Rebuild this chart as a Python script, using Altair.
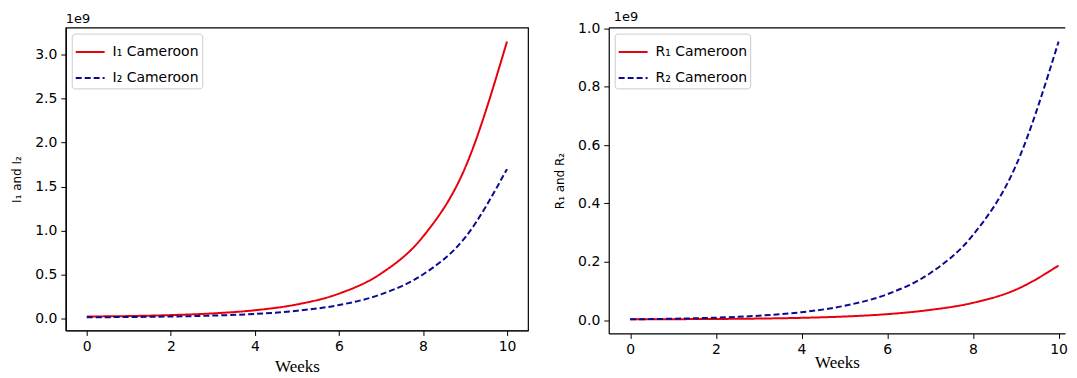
import altair as alt
import pandas as pd

# ---- data (values in units of 1e9) ----
weeks = [0, 1, 2, 3, 4, 5, 6, 7, 8, 9, 10]
i1 = [0.022, 0.027, 0.038, 0.057, 0.093, 0.159, 0.282, 0.510, 0.930, 1.710, 3.150]
i2 = [0.014, 0.016, 0.022, 0.032, 0.051, 0.087, 0.152, 0.274, 0.500, 0.918, 1.700]
r1 = [0.0025, 0.0030, 0.0037, 0.0051, 0.0076, 0.0121, 0.0202, 0.0347, 0.0590, 0.1040, 0.1870]
r2 = [0.0025, 0.0045, 0.0082, 0.0148, 0.0269, 0.0488, 0.0885, 0.1606, 0.2913, 0.5284, 0.9550]

i_labels = ["I\u2081 Cameroon", "I\u2082 Cameroon"]
r_labels = ["R\u2081 Cameroon", "R\u2082 Cameroon"]
x_ticks = [0, 2, 4, 6, 8, 10]
i_ticks = [0.0, 0.5, 1.0, 1.5, 2.0, 2.5, 3.0]
r_ticks = [0.0, 0.2, 0.4, 0.6, 0.8, 1.0]

RED = "#e8000b"
BLUE = "#0b0b8f"


def long_df(labels, a, b):
    rows = []
    for w, v in zip(weeks, a):
        rows.append({"week": w, "value": v, "series": labels[0]})
    for w, v in zip(weeks, b):
        rows.append({"week": w, "value": v, "series": labels[1]})
    return pd.DataFrame(rows)


def legend():
    return alt.Legend(
        title=None, orient="top-left", offset=6,
        symbolType="stroke", symbolSize=841, symbolStrokeWidth=2,
        labelFont="DejaVu Sans", labelFontSize=14, labelColor="black",
        labelOffset=7, rowPadding=3, padding=3,
        strokeColor="#cccccc", fillColor="white", cornerRadius=3,
    )


def title_1e9(dx=0, dy=0):
    return alt.TitleParams("1e9", anchor="start", frame="group", fontSize=13,
                           font="DejaVu Sans", fontWeight="normal", color="black",
                           offset=2, dx=dx, dy=dy)


def lines(df, labels, ticks, ydomain, ytitle, xdomain, xtitle_pad):
    return alt.Chart(df).mark_line(strokeWidth=2, interpolate="monotone").encode(
        x=alt.X("week:Q",
                scale=alt.Scale(domain=xdomain, nice=False, zero=False),
                axis=alt.Axis(values=x_ticks, format="d", title="Weeks",
                              titleFont="Liberation Serif", titleFontSize=17,
                              titleFontWeight="normal", titlePadding=xtitle_pad)),
        y=alt.Y("value:Q",
                scale=alt.Scale(domain=ydomain, nice=False, zero=False),
                axis=alt.Axis(values=ticks, format=".1f", title=ytitle,
                              titleFont="DejaVu Sans", titleFontSize=12,
                              titleFontWeight="normal", titlePadding=11)),
        color=alt.Color("series:N", sort=labels,
                        scale=alt.Scale(domain=labels, range=[RED, BLUE]),
                        legend=legend()),
        strokeDash=alt.StrokeDash("series:N", sort=labels,
                                  scale=alt.Scale(domain=labels, range=[[1, 0], [6, 3]]),
                                  legend=legend()),
    )


left = lines(long_df(i_labels, i1, i2), i_labels, i_ticks, [-0.137, 3.307],
             "I\u2081 and I\u2082", [-0.5, 10.5], 5).properties(
    width=464, height=304, title=title_1e9(),
    view=alt.ViewBackground(stroke="black", strokeWidth=1.2),
)

RW, RH = 458, 307
# the right panel is cut at the page edge in the original: frame drawn on top edge only
right = lines(long_df(r_labels, r1, r2), r_labels, r_ticks, [-0.046, 1.003],
              "R\u2081 and R\u2082", [-0.5, 10.15], -2).properties(
    width=RW, height=RH, title=title_1e9(dx=5, dy=4),
    view=alt.ViewBackground(stroke="black", strokeWidth=1.2,
                            strokeDash=[RW, RW + 2 * RH + 10]),
)

chart = alt.hconcat(left, right, spacing=24).resolve_scale(
    color="independent", strokeDash="independent"
).properties(
    padding={"left": 2, "top": 1, "right": 0, "bottom": 0},
    background="white",
).configure_axis(
    grid=False, domainColor="black", domainWidth=1.2, tickColor="black",
    tickSize=5, tickWidth=1, labelPadding=4, labelFont="DejaVu Sans",
    labelFontSize=14, labelColor="black", titleColor="black",
)

chart.save("out.html", embed_options={"renderer": "svg", "actions": False})
